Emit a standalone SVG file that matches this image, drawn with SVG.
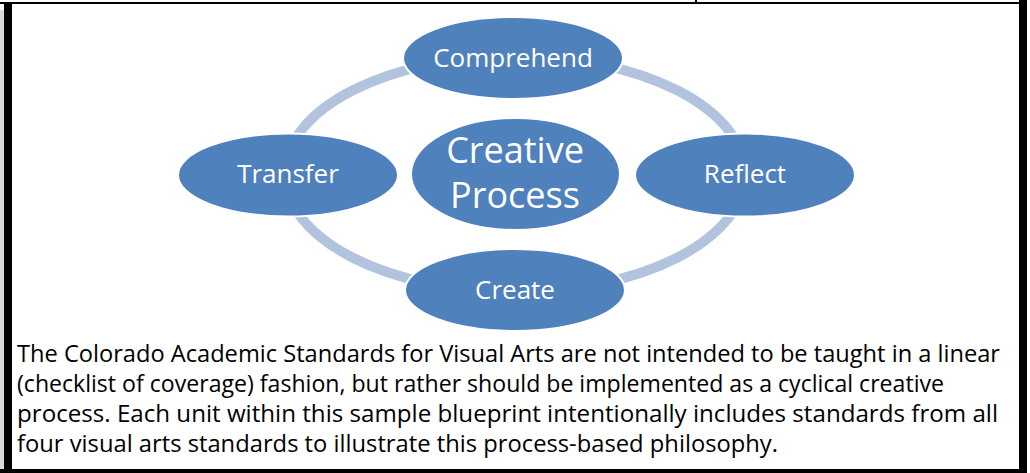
<svg xmlns="http://www.w3.org/2000/svg" width="1030" height="473" viewBox="0 0 1030 473">
<style>
.node{fill:#4f81bd;stroke:#ffffff;stroke-width:2}
.lbl{font-family:"Open Sans","Noto Sans",sans-serif;fill:#ffffff;text-anchor:middle}
.para{font-family:"Open Sans","Noto Sans",sans-serif;font-size:23px;fill:#000000}
.bar{fill:#000000}
</style>
<rect x="0" y="0" width="1030" height="473" fill="#ffffff"/>
<g id="frame">
<rect class="bar" x="0" y="2" width="1020" height="2"/>
<rect x="0" y="10" width="4" height="463" fill="#d9d9d9"/>
<rect class="bar" x="4" y="2" width="8" height="471"/>
<rect class="bar" x="1019" y="0" width="8" height="470"/>
<rect class="bar" x="0" y="469" width="1027" height="4"/>
<rect class="bar" x="695" y="0" width="2" height="4"/>
</g>
<g id="connectors">
<ellipse cx="515" cy="174" rx="230" ry="118" fill="none" stroke="#b2c3de" stroke-width="10"/>
</g>
<g id="node-comprehend">
<ellipse class="node" cx="513" cy="58" rx="110" ry="41"/>
<text class="lbl" x="513" y="67" font-size="26">Comprehend</text>
</g>
<g id="node-transfer">
<ellipse class="node" cx="288" cy="175" rx="110" ry="41.5"/>
<text class="lbl" x="288" y="183" font-size="26">Transfer</text>
</g>
<g id="node-reflect">
<ellipse class="node" cx="745" cy="175" rx="110" ry="41.5"/>
<text class="lbl" x="745" y="183" font-size="26">Reflect</text>
</g>
<g id="node-create">
<ellipse class="node" cx="515" cy="290" rx="110" ry="41"/>
<text class="lbl" x="515" y="299" font-size="26">Create</text>
</g>
<g id="node-center">
<ellipse class="node" cx="515.5" cy="174" rx="104.5" ry="56"/>
<text class="lbl" x="515" y="163" font-size="36">Creative</text>
<text class="lbl" x="515" y="208" font-size="36">Process</text>
</g>
<g id="caption">
<text class="para" x="17" y="362" textLength="983" lengthAdjust="spacingAndGlyphs">The Colorado Academic Standards for Visual Arts are not intended to be taught in a linear</text>
<text class="para" x="17" y="392" textLength="927" lengthAdjust="spacingAndGlyphs">(checklist of coverage) fashion, but rather should be implemented as a cyclical creative</text>
<text class="para" x="17" y="422" textLength="981" lengthAdjust="spacingAndGlyphs">process. Each unit within this sample blueprint intentionally includes standards from all</text>
<text class="para" x="17" y="452" textLength="761" lengthAdjust="spacingAndGlyphs">four visual arts standards to illustrate this process-based philosophy.</text>
</g>
</svg>
